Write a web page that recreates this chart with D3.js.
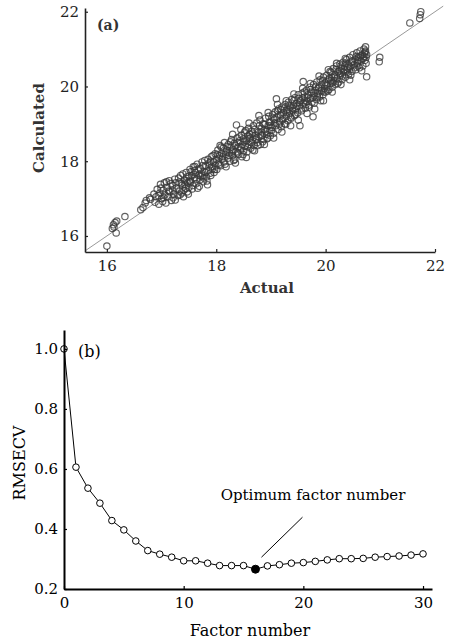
<!DOCTYPE html>
<html>
<head>
<meta charset="utf-8">
<script src="https://cdn.jsdelivr.net/npm/d3@7"></script>
<style>
  body { margin: 0; background: #fff; }
  svg { display: block; font-family: "DejaVu Serif", serif; }
</style>
</head>
<body>
<svg id="chart" width="450" height="641"></svg>
<script>
// (a) actual vs calculated, pares [actual, calculated]
const samples = [
  [16.00,15.73],[16.10,16.20],[16.12,16.30],[16.13,16.24],[16.15,16.36],[16.18,16.40],[16.17,16.08],[16.33,16.52],
  [16.62,16.70],[16.66,16.76],[16.70,16.88],[16.72,16.95],[16.78,17.02],[16.80,16.98],
  [16.86,17.12],[16.88,16.90],[16.90,17.05],[16.92,17.25],[16.95,16.85],[16.97,17.15],[16.98,17.38],[17.00,17.00],
  [17.02,16.92],[17.03,17.22],[17.05,17.42],[17.06,17.10],[17.08,16.88],[17.10,17.30],[17.12,17.05],[17.14,17.48],
  [17.15,17.18],[17.18,16.95],[17.20,17.35],[17.22,17.12],[17.24,17.52],[17.25,16.96],[17.27,17.28],[17.30,17.08],
  [17.32,17.44],[17.33,17.20],[17.35,17.62],[17.37,17.15],[17.38,17.36],[17.40,17.05],[17.42,17.50],[17.44,17.28],
  [17.45,17.70],[17.47,17.18],[17.48,17.42],[17.50,17.60],[17.50,17.30],
  [17.52,17.78],[17.53,17.45],[17.55,17.62],[17.57,17.35],[17.58,17.85],[17.60,17.55],[17.62,17.70],[17.63,17.40],
  [17.65,17.92],[17.66,17.28],[17.68,17.62],[17.70,17.50],[17.71,17.80],[17.73,17.68],[17.74,17.98],[17.76,17.45],
  [17.78,17.72],[17.80,17.88],[17.82,17.58],[17.84,17.37],[17.85,18.05],[17.86,17.75],[17.88,17.90],[17.90,17.62],
  [17.91,18.12],[17.93,17.80],[17.95,17.98],[17.96,17.70],[17.98,18.20],[17.99,17.88],
  [18.00,18.05],[18.01,17.78],[18.03,18.30],[18.04,17.95],[18.06,18.15],[18.07,18.42],[18.08,17.88],[18.10,18.22],
  [18.11,18.05],[18.13,18.35],[18.14,17.98],[18.15,18.50],[18.17,18.18],[18.18,17.85],[18.19,18.30],[18.21,18.08],
  [18.22,18.45],[18.24,18.22],[18.25,18.00],[18.27,18.38],[18.28,18.58],[18.30,18.15],[18.31,18.30],[18.33,18.48],
  [18.34,18.05],[18.36,18.25],[18.37,18.97],[18.38,18.62],[18.40,18.38],[18.41,18.18],[18.43,18.55],[18.44,18.30],
  [18.46,18.70],[18.47,18.12],[18.48,18.45],[18.50,18.60],[18.50,18.28],
  [18.52,18.78],[18.53,18.40],[18.55,18.55],[18.56,18.25],[18.58,18.68],[18.59,18.88],[18.60,18.45],[18.62,18.62],
  [18.63,18.35],[18.65,18.80],[18.66,18.55],[18.68,18.95],[18.69,18.42],[18.71,18.70],[18.72,18.58],[18.74,19.02],
  [18.75,18.50],[18.77,18.78],[18.78,18.65],[18.80,19.10],[18.81,18.45],[18.83,18.88],[18.84,18.70],[18.86,19.00],
  [18.87,18.58],[18.89,18.85],[18.90,19.15],[18.92,18.72],[18.93,18.60],[18.95,18.95],[18.96,19.20],[18.98,18.82],
  [18.99,18.68],
  [19.00,19.05],[19.02,18.90],[19.03,19.25],[19.05,18.75],[19.06,19.12],[19.08,19.32],[19.09,18.95],[19.10,19.67],
  [19.11,19.18],[19.13,18.85],[19.14,19.40],[19.16,19.05],[19.17,19.25],[19.19,18.92],[19.20,19.45],[19.22,19.15],
  [19.23,19.30],[19.25,19.00],[19.26,19.52],[19.28,19.20],[19.29,19.38],[19.31,19.08],[19.32,19.58],[19.34,19.28],
  [19.35,19.45],[19.37,19.15],[19.38,19.65],[19.40,19.35],[19.41,19.50],[19.43,19.22],[19.44,19.70],[19.46,19.42],
  [19.47,19.55],[19.49,19.30],[19.50,19.78],
  [19.52,19.48],[19.53,18.95],[19.54,19.62],[19.56,19.35],[19.57,19.82],[19.59,20.13],[19.60,19.55],[19.62,19.72],
  [19.63,19.42],[19.65,19.90],[19.66,19.60],[19.68,19.78],[19.69,19.50],[19.71,19.98],[19.72,19.68],[19.74,19.85],
  [19.75,19.58],[19.77,19.19],[19.78,20.05],[19.80,19.75],[19.81,19.90],[19.83,19.65],[19.84,20.12],[19.86,19.82],
  [19.87,19.98],[19.89,19.72],[19.90,20.18],[19.92,19.90],[19.93,20.05],[19.95,19.78],[19.96,20.25],[19.98,19.95],
  [19.99,20.10],
  [20.00,19.85],[20.02,20.30],[20.03,20.02],[20.05,20.18],[20.06,19.92],[20.08,20.40],[20.09,20.08],[20.11,20.25],
  [20.12,19.98],[20.14,20.48],[20.15,20.15],[20.17,20.32],[20.18,20.05],[20.20,20.55],[20.21,20.22],[20.23,20.40],
  [20.24,20.12],[20.26,20.60],[20.27,20.30],[20.29,20.48],[20.30,20.18],[20.32,20.65],[20.33,20.38],[20.35,20.55],
  [20.36,20.25],[20.38,20.72],[20.39,20.45],[20.41,20.60],[20.42,20.32],[20.44,20.78],[20.45,20.52],[20.47,20.65],
  [20.48,20.40],[20.50,20.85],
  [20.52,20.58],[20.54,20.72],[20.55,20.45],[20.57,20.90],[20.58,20.62],[20.60,20.78],[20.62,20.50],[20.63,20.95],
  [20.65,20.68],[20.67,20.85],[20.68,20.55],[20.70,21.00],[20.70,20.80],[20.72,20.92],[20.72,20.70],[20.73,21.06],
  [20.74,20.62],[20.75,20.26],[20.75,20.85],
  [20.98,20.66],[20.99,20.78],
  [21.54,21.70],[21.72,21.82],[21.73,21.92],[21.74,22.00],
  // segunda leva, parte mais densa da faixa
  [16.94,17.08],[16.99,17.28],[17.04,17.02],[17.09,17.45],[17.13,17.20],[17.17,17.40],[17.21,17.02],[17.26,17.42],
  [17.31,17.55],[17.34,17.10],[17.36,17.41],[17.39,17.66],[17.41,17.22],[17.43,17.38],[17.46,17.58],[17.49,17.12],
  [17.51,17.47],[17.54,17.72],[17.56,17.26],[17.59,17.64],
  [17.61,17.86],[17.64,17.52],[17.67,17.79],[17.69,17.33],[17.72,17.60],[17.75,17.88],[17.77,17.55],[17.79,18.02],
  [17.81,17.70],[17.83,17.47],[17.87,17.95],[17.89,17.68],[17.92,17.85],[17.94,18.15],[17.97,17.78],
  [18.02,18.18],[18.05,17.90],[18.09,18.38],[18.12,18.12],[18.16,17.92],[18.20,18.40],[18.23,18.15],[18.26,18.52],
  [18.29,18.25],[18.32,18.02],[18.35,18.42],[18.39,18.22],[18.42,18.65],[18.45,18.38],[18.49,18.18],
  [18.51,18.52],[18.54,18.82],[18.57,18.38],[18.61,18.72],[18.64,18.50],[18.67,18.30],[18.70,18.85],[18.73,18.62],
  [18.76,18.42],[18.79,18.95],[18.82,18.68],[18.85,18.52],[18.88,18.98],[18.91,18.80],[18.94,18.62],[18.97,19.05],
  [19.01,18.82],[19.04,19.15],[19.07,19.02],[19.12,19.35],[19.15,18.98],[19.18,19.38],[19.21,19.10],[19.24,19.42],
  [19.27,18.98],[19.30,19.32],[19.33,19.50],[19.36,19.18],[19.39,19.42],[19.42,19.62],[19.45,19.25],[19.48,19.48],
  [19.51,19.68],[19.55,19.40],[19.58,19.70],[19.61,19.85],[19.64,19.52],[19.67,19.70],[19.70,19.45],[19.73,19.92],
  [19.76,19.70],[19.79,19.55],[19.82,20.00],[19.85,19.72],[19.88,19.95],[19.91,19.62],[19.94,20.15],[19.97,19.85],
  [20.01,20.05],[20.04,19.88],[20.07,20.22],[20.10,20.38],[20.13,20.10],[20.16,20.25],[20.19,20.45],[20.22,20.08],
  [20.25,20.35],[20.28,20.55],[20.31,20.28],[20.34,20.45],[20.37,20.62],[20.40,20.38],[20.43,20.55],[20.46,20.30],
  [20.49,20.68],[20.53,20.50],[20.56,20.80],[20.59,20.55],[20.61,20.70],[20.64,20.82],[20.66,20.42],[20.69,20.75],
  [20.71,20.88],[20.73,20.95],[20.74,20.78],
  // terceira leva, bordas mais largas e miolo
  [18.30,18.72],[18.35,17.95],[18.45,18.85],[18.55,18.10],[18.60,19.02],[18.70,18.28],[18.78,19.22],[18.88,18.45],
  [18.95,19.30],[19.05,18.62],[19.12,19.52],[19.20,18.78],[19.28,19.62],[19.36,18.95],[19.42,19.80],[19.50,19.10],
  [19.58,19.95],[19.66,19.28],[19.72,20.08],[19.80,19.40],[19.88,20.28],[19.96,19.62],[20.05,20.45],[20.12,19.85],
  [20.20,20.62],[20.28,20.05],[20.36,20.75],[20.44,20.18],
  [18.40,18.50],[18.58,18.60],[18.66,18.75],[18.83,18.78],[19.00,18.95],[19.18,19.22],[19.33,19.38],[19.52,19.58],
  [19.62,19.62],[19.78,19.82],[19.93,19.88],[20.10,20.15],[20.26,20.42],[20.40,20.50],[20.58,20.68],
  [17.60,17.75],[17.75,17.62],[17.90,18.00],[18.05,18.08],[18.18,18.25],[17.45,17.48],[17.20,17.22]
];
const ticksA = [16, 18, 20, 22];

// (b) RMSECV por número de fatores
const factors = d3.range(0, 31);
const rmsecv = [1.000, 0.606, 0.536, 0.486, 0.428, 0.397, 0.360, 0.328, 0.316, 0.306,
                0.294, 0.294, 0.286, 0.278, 0.278, 0.278, 0.266, 0.277, 0.281, 0.286,
                0.288, 0.292, 0.297, 0.301, 0.301, 0.302, 0.306, 0.308, 0.310, 0.313, 0.317];
const optimumFactor = 16;
const ticksBX = [0, 10, 20, 30];
const ticksBY = [0.2, 0.4, 0.6, 0.8, 1.0];

const svg = d3.select("#chart");

// ---------- painel (a) ----------
const xA = d3.scaleLinear().domain([15.6, 22]).range([85, 435]);
const yA = d3.scaleLinear().domain([15.571, 22.1]).range([252, 8]);

const gA = svg.append("g");

// linha y = x
gA.append("line")
  .attr("x1", xA(15.6)).attr("y1", yA(15.6))
  .attr("x2", xA(22.15)).attr("y2", yA(22.15))
  .attr("stroke", "#999").attr("stroke-width", 1);

gA.append("g").selectAll("circle")
  .data(samples)
  .join("circle")
  .attr("cx", d => xA(d[0]))
  .attr("cy", d => yA(d[1]))
  .attr("r", 3.2)
  .attr("fill", "none")
  .attr("stroke", "#3a3a3a")
  .attr("stroke-opacity", 0.8)
  .attr("stroke-width", 1.15);

const axA_x = gA.append("g")
  .attr("transform", `translate(0,${yA.range()[0]})`)
  .call(d3.axisBottom(xA).tickValues(ticksA).tickFormat(d3.format("d")).tickSize(-3).tickPadding(8).tickSizeOuter(0));
const axA_y = gA.append("g")
  .attr("transform", `translate(${xA.range()[0]},0)`)
  .call(d3.axisLeft(yA).tickValues(ticksA).tickFormat(d3.format("d")).tickSize(-3).tickPadding(6).tickSizeOuter(0));

[axA_x, axA_y].forEach(ax => {
  ax.select(".domain").attr("stroke", "#222").attr("stroke-width", 1.6);
  ax.selectAll(".tick line").attr("stroke", "#222").attr("stroke-width", 1.2);
  ax.selectAll(".tick text").attr("font-size", 15).attr("fill", "#222")
    .attr("font-family", "DejaVu Serif, serif");
});

gA.append("text")
  .attr("x", 97).attr("y", 30)
  .attr("font-size", 14).attr("font-weight", "bold").attr("fill", "#333")
  .text("(a)");

gA.append("text")
  .attr("x", 267).attr("y", 293)
  .attr("text-anchor", "middle")
  .attr("font-size", 15).attr("font-weight", "bold").attr("fill", "#333")
  .text("Actual");

gA.append("text")
  .attr("transform", "translate(44,128) rotate(-90)")
  .attr("text-anchor", "middle")
  .attr("font-size", 15).attr("font-weight", "bold").attr("fill", "#333")
  .text("Calculated");

// ---------- painel (b) ----------
const xB = d3.scaleLinear().domain([0, 30.75]).range([64, 432]);
const yB = d3.scaleLinear().domain([0.2, 1.063]).range([589, 330]);

const gB = svg.append("g");

const line = d3.line()
  .x((d, i) => xB(factors[i]))
  .y(d => yB(d));

gB.append("path")
  .datum(rmsecv)
  .attr("fill", "none")
  .attr("stroke", "#000")
  .attr("stroke-width", 1)
  .attr("d", line);

gB.append("g").selectAll("circle")
  .data(rmsecv)
  .join("circle")
  .attr("cx", (d, i) => xB(factors[i]))
  .attr("cy", d => yB(d))
  .attr("r", (d, i) => factors[i] === optimumFactor ? 4 : 3.3)
  .attr("fill", (d, i) => factors[i] === optimumFactor ? "#000" : "#fff")
  .attr("stroke", "#000")
  .attr("stroke-width", 1);

const axB_x = gB.append("g")
  .attr("transform", `translate(0,${yB.range()[0]})`)
  .call(d3.axisBottom(xB).tickValues(ticksBX).tickSize(-3).tickPadding(8).tickSizeOuter(0));
const axB_y = gB.append("g")
  .attr("transform", `translate(${xB.range()[0]},0)`)
  .call(d3.axisLeft(yB).tickValues(ticksBY).tickFormat(d3.format(".1f")).tickSize(-3).tickPadding(6).tickSizeOuter(0));

[axB_x, axB_y].forEach(ax => {
  ax.select(".domain").attr("stroke", "#000").attr("stroke-width", 2);
  ax.selectAll(".tick line").attr("stroke", "#000").attr("stroke-width", 1.2);
  ax.selectAll(".tick text").attr("font-size", 15).attr("fill", "#000")
    .attr("font-family", "DejaVu Serif, serif");
});

gB.append("text")
  .attr("x", 78).attr("y", 357)
  .attr("font-size", 16).attr("fill", "#000")
  .text("(b)");

// anotação do fator ótimo
const optVal = rmsecv[factors.indexOf(optimumFactor)];
gB.append("line")
  .attr("x1", xB(optimumFactor) + 6).attr("y1", yB(optVal) - 12)
  .attr("x2", xB(optimumFactor) + 47).attr("y2", yB(optVal) - 52)
  .attr("stroke", "#000").attr("stroke-width", 1);

gB.append("text")
  .attr("x", 313).attr("y", 500)
  .attr("text-anchor", "middle")
  .attr("font-size", 15).attr("fill", "#000")
  .text("Optimum factor number");

gB.append("text")
  .attr("x", 250).attr("y", 636)
  .attr("text-anchor", "middle")
  .attr("font-size", 16).attr("fill", "#000")
  .text("Factor number");

gB.append("text")
  .attr("transform", "translate(25,463) rotate(-90)")
  .attr("text-anchor", "middle")
  .attr("font-size", 16).attr("fill", "#000")
  .text("RMSECV");
</script>
</body>
</html>
